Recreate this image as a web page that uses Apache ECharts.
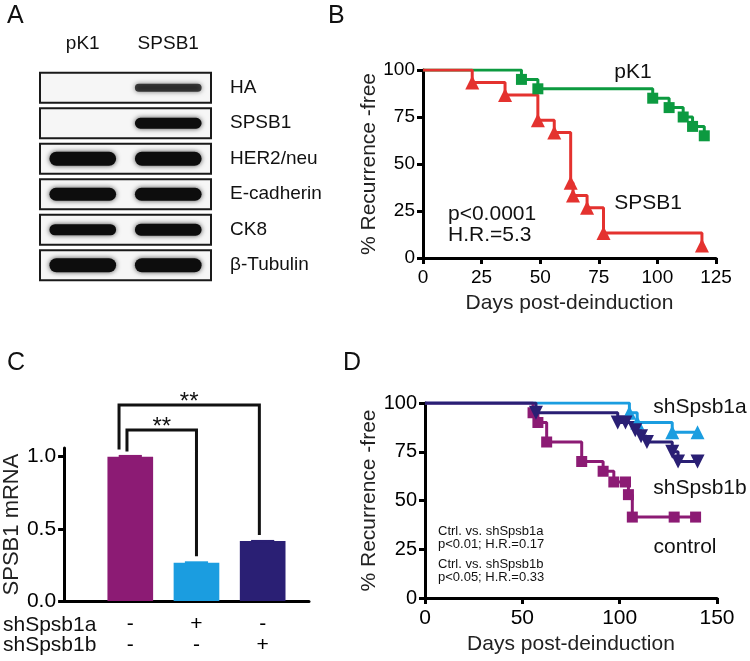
<!DOCTYPE html>
<html><head><meta charset="utf-8">
<script src="https://cdn.jsdelivr.net/npm/echarts@6/dist/echarts.min.js"></script>
<style>html,body{margin:0;padding:0;background:#fff}#c{width:750px;height:661px}</style>
</head><body><div id="c"></div>
<script>
// ---------- Panel A: western blot (band intensity 0..1) ----------
const blotLanes = ['pK1', 'SPSB1'];
const blotRows = ['HA', 'SPSB1', 'HER2/neu', 'E-cadherin', 'CK8', 'β-Tubulin'];
const blotPK1 = [0, 0, 1, 0.9, 0.72, 1];
const blotSPSB1 = [0.4, 0.68, 1, 0.9, 0.78, 1];

// ---------- Panel B: Kaplan-Meier [day, % recurrence-free] ----------
const bPK1 = [[0,100],[42,95],[49,90],[98,85],[105,80],[111,75],[115,70],[120,65]];
const bSPSB1 = [[0,100],[21,93.3],[35,86.7],[49,73.3],[56,66.7],[63,40],[64,33.3],[70,26.7],[77,13.3],[119,6.7]];
const bXTickStep = 25, bXMax = 125, bYTickStep = 25;

// ---------- Panel C: SPSB1 mRNA ----------
const cPos = [1, 2, 3];
const cValues = [1.0, 0.265, 0.415];
const cErrors = [0.012, 0.01, 0.008];
const cShA = ['-', '+', '-'];
const cShB = ['-', '-', '+'];
const cRowNames = ['shSpsb1a', 'shSpsb1b'];
const cYTicks = [0, 0.5, 1.0];
// brackets
const cBracketLeft = [0.95, 0.83];
const cBracketRight = [2.0, 2.95];
const cBracketTop = [1.185, 1.358];
const cBracketLeftEnd = [1.035, 1.05];
const cBracketRightEnd = [0.31, 0.457];
const cBracketLabel = ['**', '**'];

// ---------- Panel D: Kaplan-Meier ----------
const dShA = [[0,100],[105,95],[109,90],[127,85],[140,85]];
const dShB = [[0,100],[57,95],[99,90],[103,90],[108,86],[111,83],[114,80],[127,75],[130,70],[140,70]];
const dCtrl = [[0,100],[55.5,95],[58,90],[62.5,80],[80.5,70],[91.5,65],[97,59.5],[103,59.5],[104.5,53],[106.5,41.5],[128,41.5],[139,41.5]];
const dXTickStep = 50, dXMax = 150;

const FONT = "'Liberation Sans', Arial, sans-serif";
const COL = { green:'#0c9a40', red:'#e4322f', purple:'#8c1b74', blue:'#1b9de0', navy:'#2a1f74' };

function kmData(arr) {
  return arr.map((p, i) => i === 0 ? { value: p, symbol: 'none' } : { value: p });
}
function kmSeries(arr, color, symbol, size, xi, rot) {
  return {
    type: 'line', xAxisIndex: xi, yAxisIndex: xi, step: 'end', data: kmData(arr),
    symbol: symbol, symbolSize: size, symbolRotate: rot || 0, showAllSymbol: true,
    lineStyle: { color: color, width: 3 }, itemStyle: { color: color }, z: 3
  };
}
const axisLineStyle = { show: true, lineStyle: { color: '#000', width: 3 } };
const axisTickStyle = { show: true, length: 6, lineStyle: { color: '#000', width: 3 } };
const tickLabel = (m) => ({ color: '#000', fontSize: 19, fontFamily: FONT, margin: m });
const nameStyle = { color: '#222', fontSize: 21, fontFamily: FONT };

const chart = echarts.init(document.getElementById('c'), null, { renderer: 'canvas' });

const blotData = [];
blotRows.forEach((r, j) => {
  blotData.push([0, j, blotPK1[j]]);
  blotData.push([1, j, blotSPSB1[j]]);
});

const option = {
  animation: false,
  backgroundColor: '#fff',
  textStyle: { fontFamily: FONT },
  grid: [
    { left: 40, top: 70, width: 171, height: 213 },
    { left: 423, top: 70, width: 293, height: 188 },
    { left: 63, top: 448, width: 246, height: 153 },
    { left: 425, top: 403, width: 292, height: 195 }
  ],
  xAxis: [
    { gridIndex: 0, type: 'category', data: blotLanes, position: 'top',
      axisLine: { show: false }, axisTick: { show: false },
      axisLabel: { color: '#111', fontSize: 19, fontFamily: FONT, margin: 17 } },
    { gridIndex: 1, type: 'value', min: 0, max: bXMax, interval: bXTickStep,
      axisLine: axisLineStyle, axisTick: axisTickStyle, axisLabel: tickLabel(10), splitLine: { show: false },
      name: 'Days post-deinduction', nameLocation: 'middle', nameGap: 35, nameTextStyle: nameStyle },
    { gridIndex: 2, type: 'value', min: 0, max: 3.7,
      axisLine: axisLineStyle, axisTick: { show: false }, splitLine: { show: false },
      axisLabel: { customValues: cPos, color: '#000', fontSize: 21, fontFamily: FONT, margin: 13, lineHeight: 21,
        formatter: (v) => { const k = cPos.indexOf(v); return k < 0 ? '' : cShA[k] + '\n' + cShB[k]; } } },
    { gridIndex: 3, type: 'value', min: 0, max: dXMax, interval: dXTickStep,
      axisLine: axisLineStyle, axisTick: axisTickStyle, axisLabel: Object.assign(tickLabel(10), { fontSize: 21 }), splitLine: { show: false },
      name: 'Days post-deinduction', nameLocation: 'middle', nameGap: 36, nameTextStyle: nameStyle }
  ],
  yAxis: [
    { gridIndex: 0, type: 'category', data: blotRows, inverse: true, position: 'right',
      axisLine: { show: false }, axisTick: { show: false },
      axisLabel: { color: '#111', fontSize: 19, fontFamily: FONT, margin: 19 } },
    { gridIndex: 1, type: 'value', min: 0, max: 100, interval: bYTickStep,
      axisLine: axisLineStyle, axisTick: axisTickStyle, axisLabel: tickLabel(8), splitLine: { show: false },
      name: '% Recurrence -free', nameLocation: 'middle', nameGap: 42, nameTextStyle: nameStyle },
    { gridIndex: 2, type: 'value', min: 0, max: 1.06, interval: 0.5,
      axisLine: axisLineStyle,
      axisTick: Object.assign({}, axisTickStyle, { customValues: cYTicks }),
      axisLabel: Object.assign(tickLabel(8), { fontSize: 21, customValues: cYTicks, formatter: (v) => v.toFixed(1) }),
      splitLine: { show: false },
      name: 'SPSB1 mRNA', nameLocation: 'middle', nameGap: 40, nameTextStyle: Object.assign({}, nameStyle, { fontSize: 22 }) },
    { gridIndex: 3, type: 'value', min: 0, max: 100, interval: 25,
      axisLine: axisLineStyle, axisTick: axisTickStyle, axisLabel: Object.assign(tickLabel(8), { fontSize: 20 }), splitLine: { show: false },
      name: '% Recurrence -free', nameLocation: 'middle', nameGap: 44, nameTextStyle: nameStyle }
  ],
  series: [
    { type: 'custom', xAxisIndex: 0, yAxisIndex: 0, data: blotRows.map((r, j) => [0, j]), z: 1,
      renderItem: (params, api) => {
        const c = api.coord([0, api.value(1)]);
        const s = api.size([1, 1]);
        const cs = params.coordSys;
        const h = s[1] * 0.84;
        return { type: 'rect', shape: { x: cs.x, y: c[1] - h / 2, width: cs.width, height: h },
          style: { fill: '#f6f6f6', stroke: '#1a1a1a', lineWidth: 2 } };
      } },
    { type: 'custom', xAxisIndex: 0, yAxisIndex: 0, data: blotData, z: 2,
      renderItem: (params, api) => {
        const v = api.value(2);
        if (!v) return null;
        const c = api.coord([api.value(0), api.value(1)]);
        const s = api.size([1, 1]);
        const w = s[0] * 0.78;
        const h = 4 + 10 * v;
        return { type: 'rect', shape: { x: c[0] - w / 2, y: c[1] - h / 2, width: w, height: h, r: h / 2 },
          style: { fill: '#0d0d0d', opacity: Math.min(1, 0.35 + v), shadowBlur: 5, shadowColor: 'rgba(0,0,0,0.7)' } };
      } },
    kmSeries(bPK1, COL.green, 'rect', 11, 1),
    kmSeries(bSPSB1, COL.red, 'triangle', 14, 1),
    { type: 'custom', xAxisIndex: 2, yAxisIndex: 2, data: cPos.map((x, k) => [x, cValues[k], cErrors[k], k]), z: 2,
      renderItem: (params, api) => {
        const x = api.value(0), v = api.value(1), e = api.value(2), k = api.value(3);
        const color = [COL.purple, COL.blue, COL.navy][k];
        const top = api.coord([x, v]), base = api.coord([x, 0]);
        const w = api.size([0.69, 0])[0];
        const ew = api.size([0.35, 0])[0];
        const et = api.coord([x, v + e]);
        return { type: 'group', children: [
          { type: 'rect', shape: { x: top[0] - w / 2, y: top[1], width: w, height: base[1] - top[1] }, style: { fill: color } },
          { type: 'rect', shape: { x: top[0] - ew / 2, y: et[1], width: ew, height: top[1] - et[1] + 1 }, style: { fill: color } }
        ] };
      } },
    { type: 'custom', xAxisIndex: 2, yAxisIndex: 2, clip: false, z: 3,
      data: cBracketLeft.map((l, k) => [l, cBracketRight[k], cBracketTop[k], cBracketLeftEnd[k], cBracketRightEnd[k], k]),
      renderItem: (params, api) => {
        const l = api.value(0), r = api.value(1), t = api.value(2), lb = api.value(3), rb = api.value(4), k = api.value(5);
        const p1 = api.coord([l, lb]), p2 = api.coord([l, t]), p3 = api.coord([r, t]), p4 = api.coord([r, rb]);
        return { type: 'group', children: [
          { type: 'polyline', shape: { points: [p1, p2, p3, p4] }, style: { stroke: '#111', lineWidth: 3, fill: null } },
          { type: 'text', x: (p2[0] + p3[0]) / 2, y: p2[1] - 3,
            style: { text: cBracketLabel[k], fontSize: 24, fontFamily: FONT, fill: '#111', align: 'center', verticalAlign: 'middle' } }
        ] };
      } },
    kmSeries(dShA, COL.blue, 'triangle', 14, 3),
    kmSeries(dCtrl, COL.purple, 'rect', 11, 3),
    kmSeries(dShB, COL.navy, 'triangle', 14, 3, 180)
  ],
  graphic: [
    { type: 'text', left: 7, top: 4, style: { text: 'A', fontSize: 25, fontFamily: FONT, fill: '#111' } },
    { type: 'text', left: 328, top: 4, style: { text: 'B', fontSize: 25, fontFamily: FONT, fill: '#111' } },
    { type: 'text', left: 7, top: 351, style: { text: 'C', fontSize: 25, fontFamily: FONT, fill: '#111' } },
    { type: 'text', left: 343, top: 351, style: { text: 'D', fontSize: 25, fontFamily: FONT, fill: '#111' } },
    { type: 'text', x: 633, y: 72, style: { text: 'pK1', fontSize: 21, fontFamily: FONT, fill: '#111', align: 'center', verticalAlign: 'middle' } },
    { type: 'text', x: 648, y: 203, style: { text: 'SPSB1', fontSize: 21, fontFamily: FONT, fill: '#111', align: 'center', verticalAlign: 'middle' } },
    { type: 'text', x: 448, y: 214, style: { text: 'p<0.0001', fontSize: 21, fontFamily: FONT, fill: '#111', align: 'left', verticalAlign: 'middle' } },
    { type: 'text', x: 448, y: 235, style: { text: 'H.R.=5.3', fontSize: 21, fontFamily: FONT, fill: '#111', align: 'left', verticalAlign: 'middle' } },
    { type: 'text', x: 3, y: 625, style: { text: cRowNames[0], fontSize: 21, fontFamily: FONT, fill: '#111', align: 'left', verticalAlign: 'middle' } },
    { type: 'text', x: 3, y: 645, style: { text: cRowNames[1], fontSize: 21, fontFamily: FONT, fill: '#111', align: 'left', verticalAlign: 'middle' } },
    { type: 'text', x: 700, y: 407, style: { text: 'shSpsb1a', fontSize: 21, fontFamily: FONT, fill: '#111', align: 'center', verticalAlign: 'middle' } },
    { type: 'text', x: 700, y: 488, style: { text: 'shSpsb1b', fontSize: 21, fontFamily: FONT, fill: '#111', align: 'center', verticalAlign: 'middle' } },
    { type: 'text', x: 685, y: 547, style: { text: 'control', fontSize: 21, fontFamily: FONT, fill: '#111', align: 'center', verticalAlign: 'middle' } },
    { type: 'text', x: 438, y: 531, style: { text: 'Ctrl. vs. shSpsb1a', fontSize: 13, fontFamily: FONT, fill: '#111', align: 'left', verticalAlign: 'middle' } },
    { type: 'text', x: 438, y: 544, style: { text: 'p<0.01; H.R.=0.17', fontSize: 13, fontFamily: FONT, fill: '#111', align: 'left', verticalAlign: 'middle' } },
    { type: 'text', x: 438, y: 564, style: { text: 'Ctrl. vs. shSpsb1b', fontSize: 13, fontFamily: FONT, fill: '#111', align: 'left', verticalAlign: 'middle' } },
    { type: 'text', x: 438, y: 577, style: { text: 'p<0.05; H.R.=0.33', fontSize: 13, fontFamily: FONT, fill: '#111', align: 'left', verticalAlign: 'middle' } }
  ]
};
chart.setOption(option);
</script>
</body></html>
